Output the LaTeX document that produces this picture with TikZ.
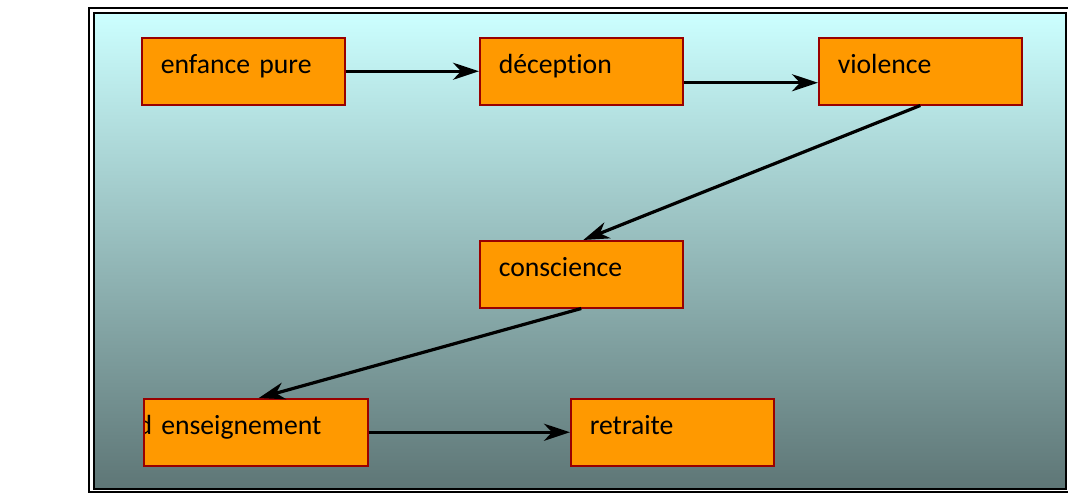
\documentclass[tikz,border=0pt]{standalone}
\usepackage{fontspec}
\setmainfont[RawFeature=-liga]{Carlito}
\usetikzlibrary{arrows.meta}
\definecolor{boxfill}{RGB}{255,153,0}
\definecolor{boxline}{RGB}{153,0,0}
\definecolor{bgtop}{RGB}{204,255,255}
\definecolor{bgbot}{RGB}{94,118,118}
\begin{document}
\begin{tikzpicture}[x=1pt,y=-1pt,
  stage/.style={draw=boxline, line width=1.5pt, fill=boxfill, anchor=north west,
    inner xsep=19pt, inner ysep=0pt, text width=165pt, align=left,
    text height=36pt, text depth=31pt, font=\fontsize{27.7}{33}\selectfont},
  link/.style={-{Stealth[length=26pt,width=17pt,inset=8pt]}, line width=3.2pt}]
  \useasboundingbox (0,0) rectangle (1068,496);
  \fill[white] (0,0) rectangle (1068,496);
  % double frame with shaded panel
  \draw[line width=2.6pt] (89,8) rectangle (1085,492);
  \draw[line width=2pt, top color=bgtop, bottom color=bgbot] (93.5,12.5) rectangle (1065.5,488.5);
  % stages
  \node[stage] (enf) at (141,37) {enfance pure};
  \node[stage] (dec) at (479,37) {déception};
  \node[stage] (vio) at (818,37) {violence};
  \node[stage] (con) at (479,240) {conscience};
  \node[stage, text width=186pt,
    path picture={\node[anchor=base west, inner sep=0pt, font=\fontsize{27.7}{33}\selectfont]
      at ([xshift=-7pt,yshift=-36pt]path picture bounding box.north west) {d enseignement};}]
    (ens) at (143,398) {};
  \node[stage] (ret) at (570,398) {retraite};
  % connectors
  \draw[link] (enf.east) -- (dec.west);
  \draw[link] ([yshift=-11.5pt]dec.east) -- ([yshift=-11.5pt]vio.west);
  \draw[link] (vio.south) -- ([xshift=2pt]con.north);
  \draw[link] (con.south) -- ([xshift=3pt]ens.north);
  \draw[link] (ens.east) -- (ret.west);
\end{tikzpicture}
\end{document}
